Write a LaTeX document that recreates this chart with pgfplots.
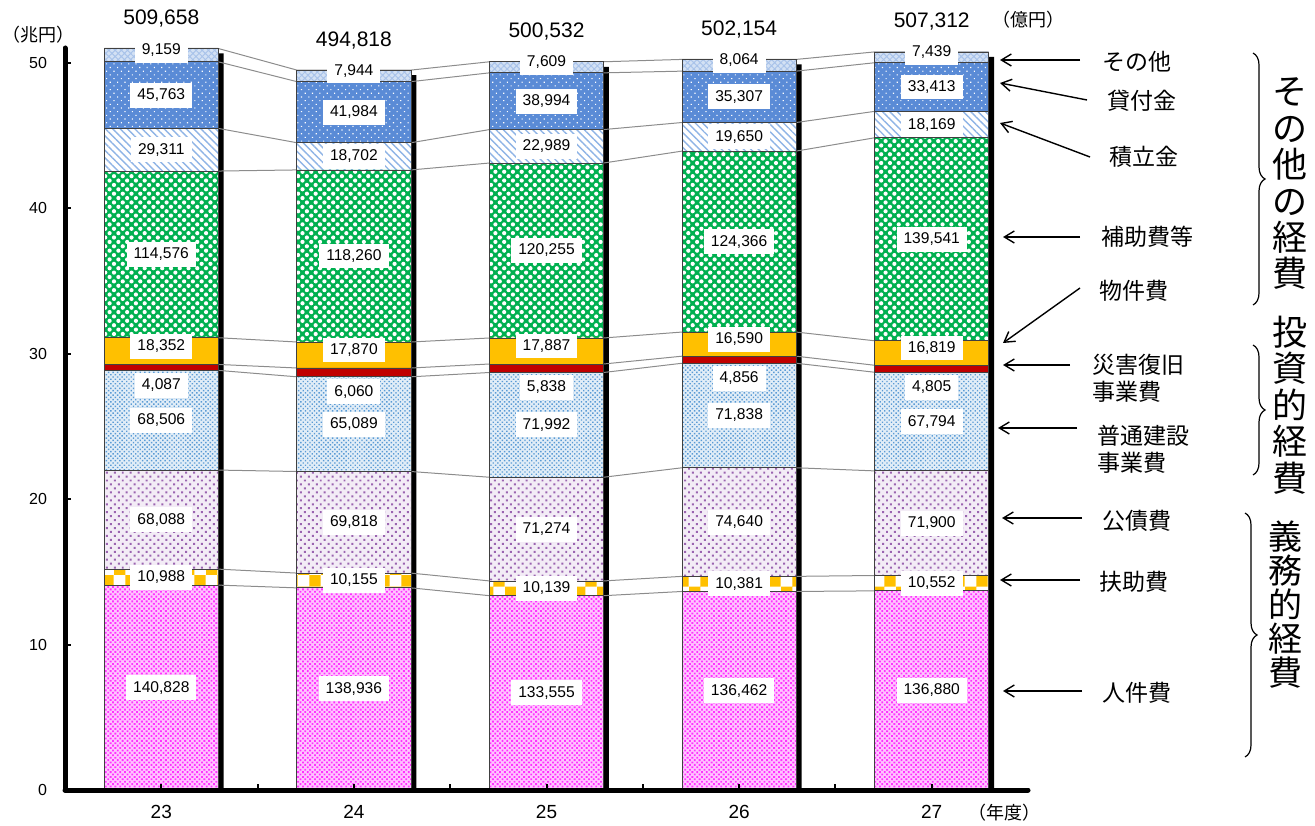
\documentclass[border=0pt]{standalone}
\usepackage{pgfplots}
\pgfplotsset{compat=1.18}
\usepackage{pgfplotstable}
\usepackage{fontspec}
\setmainfont{Liberation Sans}
\newfontfamily\jp{Noto Sans CJK JP}
\usetikzlibrary{patterns,patterns.meta,arrows.meta,decorations.pathreplacing}
\pgfkeys{/pgf/number format/assume math mode=true}

\definecolor{cJin}{HTML}{FF33FF}
\definecolor{cFuj}{HTML}{FFC000}
\definecolor{cKou}{HTML}{9A64B0}
\definecolor{cFut}{HTML}{5B9BD5}
\definecolor{cSai}{HTML}{C00000}
\definecolor{cBuk}{HTML}{FFC000}
\definecolor{cHoj}{HTML}{00B050}
\definecolor{cTsu}{HTML}{8FB4E6}
\definecolor{cKas}{HTML}{5A8BD6}
\definecolor{cSon}{HTML}{D3E1F4}
\definecolor{cSonP}{HTML}{A9C3EA}

% values in 100 million yen (oku-en)
\pgfplotstableread{
x jin fuj kou fut sai buk hoj tsu kas son tot
0 140828 10988 68088 68506 4087 18352 114576 29311 45763 9159 509658
1 138936 10155 69818 65089 6060 17870 118260 18702 41984 7944 494818
2 133555 10139 71274 71992 5838 17887 120255 22989 38994 7609 500532
3 136462 10381 74640 71838 4856 16590 124366 19650 35307 8064 502154
4 136880 10552 71900 67794 4805 16819 139541 18169 33413 7439 507312
}\data

% cumulative boundaries, each bar listed for its left (-1) and right (+1) edge
\pgfplotstableread{
x s c1 c2 c3 c4 c5 c6 c7 c8 c9 c10
0 -1 140828 151816 219904 288410 292497 310849 425425 454736 500499 509658
0 1 140828 151816 219904 288410 292497 310849 425425 454736 500499 509658
1 -1 138936 149091 218909 283998 290058 307928 426188 444890 486874 494818
1 1 138936 149091 218909 283998 290058 307928 426188 444890 486874 494818
2 -1 133555 143694 214968 286960 292798 310685 430940 453929 492923 500532
2 1 133555 143694 214968 286960 292798 310685 430940 453929 492923 500532
3 -1 136462 146843 221483 293321 298177 314767 439133 458783 494090 502154
3 1 136462 146843 221483 293321 298177 314767 439133 458783 494090 502154
4 -1 136880 147432 219332 287126 291931 308750 448291 466460 499873 507312
4 1 136880 147432 219332 287126 291931 308750 448291 466460 499873 507312
}\cum

\pgfplotsset{
  base/.style={scale only axis, width=481.5pt, height=371pt,
    xmin=-0.5, xmax=4.5, ymin=0, ymax=510000, clip=false, enlargelimits=false},
  lbl/.style={only marks, mark=*, mark size=0pt, mark options={draw=none,fill=none},
    point meta=explicit symbolic,
    nodes near coords={\pgfmathprintnumber[fixed,precision=0,1000 sep={,}]{\pgfplotspointmeta}},
    every node near coord/.append style={anchor=center, fill=white, inner xsep=3.5pt,
      inner ysep=3pt, font=\fontsize{7.8}{9}\selectfont, text=black}},
  bseg/.style={draw=black!75, line width=0.4pt},
}

\begin{document}
\begin{tikzpicture}
% background: shadows and connector lines
\begin{axis}[base, hide axis]
\addplot[ybar, bar width=0.592, bar shift=2.7pt, fill=black, draw=none]
  table[x=x, y expr=\thisrow{tot}-3440]{\data};
\pgfplotsinvokeforeach{c1,c2,c3,c4,c5,c6,c7,c8,c9,c10}{
  \addplot[black!45, line width=0.5pt, mark=none]
    table[x expr=\thisrow{x}+0.296*\thisrow{s}, y=#1]{\cum};
}
\end{axis}
% bars
\begin{axis}[base, ybar stacked, bar width=0.592,
  axis x line*=bottom, axis y line*=left,
  axis line style={-, line width=2.5pt, line cap=round},
  axis on top,
  xtick={0,1,2,3,4}, xticklabels={23,24,25,26,27},
  minor xtick={0.5,1.5,2.5,3.5},
  ytick={0,100000,200000,300000,400000,500000}, yticklabels={0,10,20,30,40,50},
  scaled y ticks=false,
  tick align=inside, major tick length=3pt, minor tick length=3pt,
  tick style={black, line width=1pt},
  xticklabel style={font=\fontsize{9.5}{11}\selectfont, yshift=-4pt},
  yticklabel style={font=\fontsize{8}{10}\selectfont, xshift=-5.5pt},
]
\addplot[bseg, fill=cJin!28, postaction={pattern={Dots[distance=1.7pt, radius=0.65pt, angle=45]}, pattern color=cJin}]
  table[x=x, y=jin]{\data};
\addplot[bseg, fill=white, postaction={pattern=checkerboard, pattern color=cFuj}]
  table[x=x, y=fuj]{\data};
\addplot[bseg, fill=cKou!12, postaction={pattern={Dots[distance=2.8pt, radius=0.7pt, angle=45]}, pattern color=cKou}]
  table[x=x, y=kou]{\data};
\addplot[bseg, fill=cFut!18, postaction={pattern={Dots[distance=1.6pt, radius=0.5pt, angle=45]}, pattern color=cFut}]
  table[x=x, y=fut]{\data};
\addplot[bseg, fill=cSai]
  table[x=x, y=sai]{\data};
\addplot[bseg, fill=cBuk]
  table[x=x, y=buk]{\data};
\addplot[bseg, fill=cHoj, postaction={pattern={Dots[distance=3.1pt, radius=1.05pt, angle=45]}, pattern color=white}]
  table[x=x, y=hoj]{\data};
\addplot[bseg, fill=white, postaction={pattern={Lines[distance=2.6pt, angle=-45, line width=0.7pt]}, pattern color=cTsu}]
  table[x=x, y=tsu]{\data};
\addplot[bseg, fill=cKas, postaction={pattern={Dots[distance=2.6pt, radius=0.4pt, angle=45]}, pattern color=white}]
  table[x=x, y=kas]{\data};
\addplot[bseg, fill=cSon, postaction={pattern={Hatch[distance=2.2pt, angle=45, line width=0.5pt]}, pattern color=cSonP}]
  table[x=x, y=son]{\data};
\end{axis}
% value labels
\begin{axis}[base, hide axis]
\addplot[lbl] table[x=x, y expr=\thisrow{jin}/2, meta=jin]{\data};
\addplot[lbl] table[x=x, y expr=\thisrow{jin}+\thisrow{fuj}/2, meta=fuj]{\data};
\addplot[lbl] table[x=x, y expr=\thisrow{jin}+\thisrow{fuj}+\thisrow{kou}/2, meta=kou]{\data};
\addplot[lbl] table[x=x, y expr=\thisrow{jin}+\thisrow{fuj}+\thisrow{kou}+\thisrow{fut}/2, meta=fut]{\data};
\addplot[lbl, every node near coord/.append style={yshift=-7.5pt}]
  table[x=x, y expr=\thisrow{jin}+\thisrow{fuj}+\thisrow{kou}+\thisrow{fut}, meta=sai]{\data};
\addplot[lbl, every node near coord/.append style={yshift=2.5pt}]
  table[x=x, y expr=\thisrow{jin}+\thisrow{fuj}+\thisrow{kou}+\thisrow{fut}+\thisrow{sai}+\thisrow{buk}/2, meta=buk]{\data};
\addplot[lbl] table[x=x, y expr=\thisrow{tot}-\thisrow{son}-\thisrow{kas}-\thisrow{tsu}-\thisrow{hoj}/2, meta=hoj]{\data};
\addplot[lbl] table[x=x, y expr=\thisrow{tot}-\thisrow{son}-\thisrow{kas}-\thisrow{tsu}/2, meta=tsu]{\data};
\addplot[lbl] table[x=x, y expr=\thisrow{tot}-\thisrow{son}-\thisrow{kas}/2, meta=kas]{\data};
\addplot[lbl, every node near coord/.append style={yshift=2.5pt}]
  table[x=x, y expr=\thisrow{tot}-\thisrow{son}/2, meta=son]{\data};
\addplot[lbl, every node near coord/.append style={fill=none, yshift=15pt, font=\fontsize{10.5}{12}\selectfont}]
  table[x=x, y=tot, meta=tot]{\data};
\end{axis}
% annotations (pixel grid of the reference, y downward as negative)
\begin{scope}[shift={(-32.5pt,395pt)}, x=0.5pt, y=0.5pt]
\begin{scope}[-{Straight Barb[length=5pt,width=6pt]}, line width=0.7pt]
\draw (1080,-60) -- (1000,-60);
\draw (1087,-100) -- (1000,-83);
\draw (1090,-157) -- (1000,-123);
\draw (1080,-237) -- (1003,-237);
\draw (1080,-288) -- (1003,-343);
\draw (1070,-365) -- (1003,-365);
\draw (1077,-428) -- (998,-428);
\draw (1082,-518) -- (1002,-518);
\draw (1080,-580) -- (1000,-580);
\draw (1082,-691) -- (1003,-691);
\end{scope}
\begin{scope}[every node/.style={font=\jp\fontsize{11.5}{13.5}\selectfont, inner sep=0pt}]
\node at (1137,-62) {その他};
\node at (1142,-101) {貸付金};
\node at (1144,-157) {積立金};
\node at (1147,-237) {補助費等};
\node at (1134,-291) {物件費};
\node[anchor=west, align=left] at (1092,-378.5) {災害復旧\\事業費};
\node[anchor=west, align=left] at (1097,-449) {普通建設\\事業費};
\node at (1137,-521) {公債費};
\node at (1134,-582) {扶助費};
\node at (1137,-693) {人件費};
\end{scope}
\begin{scope}[decoration={brace, amplitude=6pt}, line width=0.6pt]
\draw[decorate] (1253,-53) -- (1253,-305);
\draw[decorate] (1253,-345) -- (1253,-475);
\draw[decorate] (1245,-513) -- (1245,-757);
\end{scope}
\begin{scope}[every node/.style={font=\jp\fontsize{17.5}{18.2}\selectfont, inner sep=0pt, align=center}]
\node at (1290,-184) {そ\\の\\他\\の\\経\\費};
\node at (1290,-405) {投\\資\\的\\経\\費};
\node[font=\jp\fontsize{17}{17}\selectfont] at (1285,-605) {義\\務\\的\\経\\費};
\end{scope}
\begin{scope}[every node/.style={font=\jp\fontsize{9}{11}\selectfont, inner sep=0pt}]
\node[anchor=west] at (2,-35) {（兆円）};
\node at (1028,-20) {（億円）};
\node at (1004,-813) {（年度）};
\end{scope}
\pgfresetboundingbox
\path[use as bounding box] (0,0) rectangle (1315,-825);
\end{scope}
\end{tikzpicture}
\end{document}
